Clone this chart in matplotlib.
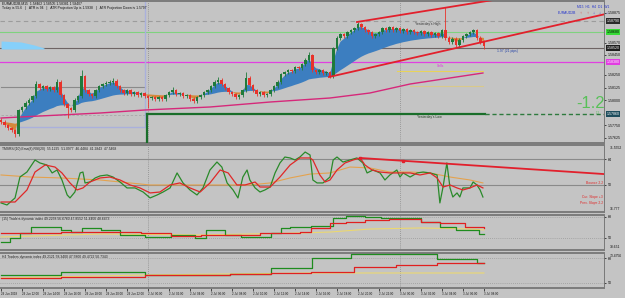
import matplotlib
matplotlib.use("Agg")
import matplotlib.pyplot as plt
import numpy as np
import pandas as pd

plt.rcParams['font.family'] = ['Liberation Sans', 'DejaVu Sans']

BG = '#c4c4c4'

# ---- price bars (one bar ~ 20 min) ----
close = np.array([
    1.5778, 1.5775, 1.5772, 1.5770, 1.5766, 1.5790, 1.5793, 1.5797, 1.5800, 1.5804,
    1.5816, 1.5812, 1.5814, 1.5811, 1.5813, 1.5810, 1.5818, 1.5805, 1.5796, 1.5792,
    1.5790, 1.5800, 1.5804, 1.5824, 1.5810, 1.5806, 1.5804, 1.5810, 1.5814, 1.5816,
    1.5817, 1.5818, 1.5819, 1.5814, 1.5810, 1.5807, 1.5810, 1.5806, 1.5808, 1.5805,
    1.5807, 1.5804, 1.5802, 1.5803, 1.5801, 1.5803, 1.5801, 1.5805, 1.5808, 1.5810,
    1.5806, 1.5807, 1.5804, 1.5805, 1.5801, 1.5799, 1.5803, 1.5805, 1.5808, 1.5810,
    1.5814, 1.5818, 1.5820, 1.5816, 1.5812, 1.5808, 1.5806, 1.5803, 1.5805, 1.5810,
    1.5822, 1.5815, 1.5810, 1.5806, 1.5808, 1.5805, 1.5806, 1.5810, 1.5814, 1.5818,
    1.5826, 1.5828, 1.5830, 1.5829, 1.5833, 1.5832, 1.5836, 1.5840, 1.5845, 1.5830,
    1.5828, 1.5830, 1.5827, 1.5828, 1.5824, 1.5852, 1.5862, 1.5866, 1.5864, 1.5868,
    1.5870, 1.5872, 1.5876, 1.5873, 1.5870, 1.5868, 1.5864, 1.5866, 1.5868, 1.5872,
    1.5870, 1.5873, 1.5870, 1.5872, 1.5869, 1.5871, 1.5868, 1.5870, 1.5868, 1.5867,
    1.5869, 1.5866, 1.5868, 1.5865, 1.5867, 1.5864, 1.5870, 1.5862, 1.5858, 1.5861,
    1.5855, 1.5860, 1.5864, 1.5866, 1.5868, 1.5870, 1.5862, 1.5858, 1.5854,
])
first_open = 1.5780
spike_high = {10: 1.5819, 16: 1.5821, 23: 1.5830, 32: 1.5822, 49: 1.5813,
              62: 1.5823, 70: 1.5828, 88: 1.5848, 102: 1.5878, 127: 1.5893}
spike_low = {4: 1.5763, 19: 1.5782, 42: 1.5792, 94: 1.5822, 130: 1.5853, 138: 1.5851}

# slow moving average (magenta)
ma_x = [0, 5.4, 28.3, 41.1, 59.7, 76.9, 94, 105.4, 116.9, 137.7]
ma_val = [1.5782, 1.5783, 1.5787, 1.5790, 1.5793, 1.5798, 1.5802, 1.5807, 1.5816, 1.5827]

# horizontal levels
level_dash = 1.5879
level_green = 1.5868
bid = 1.5852
level_magenta = 1.5838
box_high = 1.5813
box_mid = 1.5785
box_low = 1.5773
prev_low = 1.5786
proj_a = 1.5829
proj_b = 1.5814

# channel anchors (bar, price)
chan_up = [(101.7, 1.5878), (140.6, 1.5900)]
chan_lo = [(93.7, 1.5823), (174.0, 1.5887)]

# cyan blob top-left
cyan_x = [0, 5.7, 9.5, 12.3]
cyan_top = [1.5859, 1.5858, 1.5855, 1.5852]
cyan_bot = [1.5851, 1.5851, 1.5851, 1.5851]

main_ticks = [1.58875, 1.5857, 1.5845, 1.5825, 1.58125, 1.58, 1.5775, 1.57625]
price_boxes = [(1.5879, '1.58790', '#2b2b2b', 'white'),
               (1.5868, '1.58680', '#36dc36', 'black'),
               (1.5852, '1.58520', '#1e1e1e', 'white'),
               (1.5838, '1.58380', '#e23ce2', 'white'),
               (1.5786, '1.57860', '#1d4c5c', 'white')]

# ---- RSI panel ----
rsi_x = [0, 1.7, 4, 5.4, 7.4, 9.7, 11.1, 13.1, 14.6, 16, 17.4, 18.9, 19.7, 21.1, 22.6, 23.4,
         24, 25.4, 26.9, 28.3, 30.3, 32, 34, 36, 38.3, 40.6, 42.6, 44.6, 46.3, 48.3, 50.3, 52,
         54, 56, 57.7, 59.7, 61.7, 63.1, 64.6, 66.3, 67.7, 69.1, 70.3, 71.1, 72.6, 74, 75.4,
         76.9, 78.3, 79.7, 81.1, 82.6, 84, 85.4, 86.9, 88.3, 89.1, 90.3, 92, 94, 94.9, 96,
         97.7, 99.7, 101.7, 103.4, 104.6, 106.3, 108.3, 109.7, 111.1, 113.1, 114, 114.9,
         116.9, 118.9, 120.6, 122.6, 124.6, 125.4, 126.3, 127.4, 128.3, 129.1, 130.3, 131.1,
         132, 134, 134.9, 136, 136.9, 137.7]
rsi_green = [40.3, 39.2, 43.0, 54.3, 57.0, 63.5, 61.9, 60.8, 56.5, 58.1, 52.7, 44.6, 43.0, 46.2,
             56.5, 57.0, 51.1, 51.6, 53.8, 54.9, 55.4, 54.3, 51.6, 48.4, 48.4, 46.2, 43.0, 44.6,
             46.2, 48.4, 56.5, 51.1, 47.3, 44.6, 48.4, 58.1, 62.4, 59.7, 51.1, 47.3, 43.0, 54.3,
             58.1, 52.7, 48.4, 46.2, 47.3, 48.9, 56.5, 61.9, 65.1, 64.6, 63.5, 65.1, 67.8, 66.2,
             52.7, 51.1, 51.1, 54.3, 63.5, 65.1, 62.4, 63.5, 64.6, 61.9, 56.5, 58.1, 56.5, 52.7,
             55.4, 58.1, 54.3, 56.5, 54.3, 56.5, 57.0, 56.5, 55.4, 40.3, 48.9, 61.9, 48.4, 43.5,
             45.7, 43.5, 48.4, 48.4, 51.6, 50.0, 47.3, 43.5]
sig_x = [0, 4, 7.4, 9.7, 12.6, 15.4, 17.4, 19.7, 21.7, 23.4, 25.4, 28.3, 31.1, 34, 36.9, 39.7,
         42.6, 45.4, 48.3, 51.1, 54, 56.9, 59.7, 62.6, 64.9, 67.4, 69.7, 72.6, 74, 76.9, 79.7,
         82.6, 85.4, 88.3, 89.1, 91.1, 92.6, 94, 96, 98.3, 100.6, 102.6, 104, 106, 108.3, 111.1,
         114, 116.9, 119.7, 122.6, 124.6, 126.3, 128.3, 130.3, 132, 134, 136, 137.7]
rsi_red = [40.8, 40.8, 47.3, 57.0, 60.8, 59.7, 56.5, 51.1, 47.3, 48.4, 51.6, 53.8, 54.3, 52.7,
           50.0, 48.4, 45.7, 46.2, 50.0, 51.1, 48.4, 46.2, 51.1, 58.1, 56.5, 50.0, 50.0, 51.6,
           48.9, 48.9, 54.3, 60.8, 64.6, 64.6, 63.5, 55.4, 51.6, 52.7, 58.1, 61.9, 63.5, 64.6,
           60.8, 58.1, 57.0, 56.5, 56.5, 56.5, 55.4, 56.5, 53.8, 48.9, 50.0, 48.4, 47.3, 48.4,
           50.0, 48.4]
slow_x = [0, 8.3, 17, 28.3, 42.6, 56.9, 71.1, 76.9, 82.6, 88.3, 94, 99.7, 105.4, 111.1, 116.9,
          122.6, 128.3, 134, 137.7]
rsi_orange = [55.4, 54.3, 53.8, 52.7, 50.0, 50.0, 50.0, 51.1, 53.8, 55.9, 56.5, 59.7, 59.2, 57.0,
              57.0, 56.5, 54.3, 52.7, 51.1]
rsi_trend = [(102.6, 64.6), (172.3, 55.9)]
rsi_dots = [(102.6, 64.6), (114.9, 62.9)]

# ---- Traders dynamic index M15 ----
t15_gx = [0, 2.5, 5.5, 8.5, 17, 20, 23, 28.5, 34, 41, 48.5, 55.5, 58.5, 64, 68.5, 77, 80, 82.5,
          88.5, 95, 98.5, 104, 108.5, 120, 125.5, 130, 136.5, 138]
t15_green = [46.6, 50.0, 54.3, 59.4, 56.9, 55.1, 58.6, 56.9, 52.6, 50.9, 52.6, 50.0, 56.9, 52.6,
             50.9, 54.3, 58.6, 59.4, 60.3, 67.1, 68.9, 68.0, 67.1, 63.7, 59.4, 56.9, 53.4, 53.4]
t15_rx = [0, 17, 40, 48.5, 57, 74, 85.5, 88.5, 94, 98.5, 104, 111, 120, 125.5, 132.5, 138]
t15_red = [54.3, 55.1, 54.3, 51.7, 52.6, 54.3, 55.1, 58.6, 62.9, 63.7, 65.4, 66.3, 63.7, 62.9,
           59.4, 58.6]
t15_yx = [0, 28.5, 57, 85.5, 94, 105.5, 120, 134, 138]
t15_yellow = [50.9, 53.4, 52.6, 54.3, 55.1, 57.7, 58.6, 57.7, 56.9]

# ---- Traders dynamic index H4 ----
h4_gx = [0, 17, 41, 65.5, 77, 89, 100, 124.5, 136, 138]
h4_green = [55.8, 57.9, 55.8, 56.5, 60.8, 68.0, 70.9, 67.3, 64.4, 64.4]
h4_rx = [0, 17, 41, 65.5, 77, 88.5, 101, 113, 124.5, 138]
h4_red = [53.6, 54.3, 55.8, 56.5, 57.2, 57.9, 61.5, 63.0, 64.4, 64.4]
h4_yx = [0, 42, 88, 138]
h4_yellow = [53.6, 55.8, 57.2, 57.2]

day_breaks = [42, 114]
xtick_labels = ["29 Jun 2018", "29 Jun 12:00", "29 Jun 14:00", "29 Jun 16:00", "29 Jun 18:00",
                "29 Jun 20:00", "29 Jun 22:00", "2 Jul 00:00", "2 Jul 02:00", "2 Jul 04:00",
                "2 Jul 06:00", "2 Jul 08:00", "2 Jul 10:00", "2 Jul 12:00", "2 Jul 14:00",
                "2 Jul 16:00", "2 Jul 18:00", "2 Jul 20:00", "2 Jul 22:00", "3 Jul 00:00",
                "3 Jul 02:00", "3 Jul 04:00", "3 Jul 06:00", "3 Jul 08:00"]
xtick_pos = [6 * k for k in range(len(xtick_labels))]

# ---------------- figure ----------------
FS = 2.4     # tiny terminal font
AFS = 2.6    # price scale font
H = 298
W = 604 / 625
fig = plt.figure(figsize=(6.25, 2.98), dpi=100, facecolor=BG)
ax0 = fig.add_axes([0, 1 - 143 / H, W, 142 / H])
ax1 = fig.add_axes([0, 1 - 212 / H, W, 67 / H])
ax2 = fig.add_axes([0, 1 - 250 / H, W, 35 / H])
ax3 = fig.add_axes([0, 1 - 288 / H, W, 35 / H])
xlim = (-0.3, 172.3)
for ax in (ax0, ax1, ax2, ax3):
    ax.set_facecolor(BG)
    ax.set_xlim(*xlim)
    ax.yaxis.tick_right()
    ax.tick_params(axis='y', labelsize=AFS, length=1.5, width=0.5, pad=1, colors='#111111')
    ax.tick_params(axis='x', length=0, labelbottom=False)
    for side in ('top', 'bottom'):
        ax.spines[side].set_color('#7c7c7c')
        ax.spines[side].set_linewidth(1.4)
    ax.spines['left'].set_visible(False)
    ax.spines['right'].set_color('#6c6c6c')
    ax.spines['right'].set_linewidth(0.6)
    for b in day_breaks:
        ax.axvline(b, color='#8a8a8a', ls=(0, (1, 1.5)), lw=0.6, zorder=1)

# ---- main panel ----
ax0.set_ylim(1.5757, 1.5899)
ax0.set_yticks(main_ticks)
ax0.set_yticklabels([f"{t:.5f}" for t in main_ticks])

xs = np.arange(len(close))
opens = np.r_[first_open, close[:-1]]
wick = 0.00015
highs = np.maximum(opens, close) + wick
lows = np.minimum(opens, close) - wick
for k, v in spike_high.items():
    highs[k] = v
for k, v in spike_low.items():
    lows[k] = v

s = pd.Series(close)
fast = s.ewm(span=3, adjust=False).mean().values
slow = s.ewm(span=30, adjust=False).mean().values

ax0.axhline(level_dash, color='#9c9c9c', ls=(0, (4, 3)), lw=0.8, zorder=1)
ax0.axhline(level_green, color='#7fd27f', lw=0.8, zorder=1)
ax0.axhline(bid, color='#6e6464', lw=0.8, zorder=1)
ax0.axhline(level_magenta, color='#e040e0', lw=0.9, zorder=1)
ax0.plot([0, 41.1], [box_high, box_high], color='#8a8a8a', lw=0.8, zorder=1)
ax0.plot([0, 41.1], [box_mid, box_mid], color='#a8a8a8', ls=(0, (3, 2)), lw=0.6, zorder=1)
ax0.plot([4, 41.1, 41.1], [box_low, box_low, 1.5899], color='#aab0dc', lw=1.0, zorder=2)
ax0.fill_between(cyan_x, cyan_bot, cyan_top, color='#86d0fa', lw=0, zorder=2)

ax0.fill_between(xs, fast, slow, where=fast >= slow, color='#3c7ec0', interpolate=True, lw=0, zorder=2)
ax0.fill_between(xs, fast, slow, where=fast < slow, color='#d4893c', interpolate=True, lw=0, zorder=2)
ax0.plot(ma_x, ma_val, color='#d6287a', lw=1.0, zorder=3)

up = close >= opens
ccol = np.where(up, '#1f7a3a', '#e8322a')
ax0.vlines(xs, lows, highs, colors=ccol, lw=0.6, zorder=4)
ax0.bar(xs, np.maximum(np.abs(close - opens), 0.00004), bottom=np.minimum(opens, close),
        width=0.6, color=ccol, zorder=5)

ax0.plot([41.7, 41.7], [1.5757, prev_low], color='#1a6e2a', lw=1.6, zorder=3)
ax0.plot([41.7, 138.3], [prev_low, prev_low], color='#1a6e2a', lw=1.6, zorder=3)
ax0.plot([138.3, xlim[1]], [prev_low, prev_low], color='#2e7a3e', ls=(0, (3, 2)), lw=1.0, zorder=3)
ax0.plot([113.1, 137.7], [proj_a, proj_a], color='#e8d35a', lw=0.8, zorder=3)
ax0.plot([116.9, 137.7], [proj_b, proj_b], color='#d9c98a', lw=0.8, zorder=3)

for (x1, y1), (x2, y2) in (chan_up, chan_lo):
    xe = xlim[1] + 2
    ax0.plot([x1, xe], [y1, y1 + (y2 - y1) / (x2 - x1) * (xe - x1)], color='#e2202c', lw=1.3, zorder=6)

ax0.text(0.003, 0.995, "EURAUD2B,M15  1.58462 1.58505 1.58381 1.58407", transform=ax0.transAxes,
         fontsize=FS, va='top', color='#111111')
ax0.text(0.003, 0.962, "Today is 55.6   |   ATR is 94   |   ATR Projection Up is 1.5938   |   ATR Projection Down is 1.5797",
         transform=ax0.transAxes, fontsize=FS, va='top', color='#111111')
ax0.text(118.3, 1.5876, "Yesterday's High", fontsize=FS, color='#333333', va='center', zorder=7)
ax0.text(118.9, 1.5783, "Yesterday's Low", fontsize=FS, color='#1c3c1c', va='center', zorder=7)
ax0.text(141.7, 1.5849, "1.97 (21 pips)", fontsize=FS, color='#2442a8', va='center', zorder=7)
ax0.text(124.6, 1.5834, "Sells", fontsize=FS, color='#e030e0', va='center', zorder=7)
ax0.text(172.6, 1.5797, "-1.2", fontsize=12, color='#58c058', ha='right', va='center', zorder=7)
ax0.text(170.5, 1.5787, "1.2", fontsize=2.2, color='#58c058', ha='center', va='center', zorder=7)
ax0.text(164.6, 1.5893, "M15  H1  H4  D1  W1", fontsize=FS, color='#2233cc', ha='left', va='center', zorder=7)
ax0.text(164.3, 1.5887, "EURAUD2B", fontsize=FS, color='#2233cc', ha='right', va='center', zorder=7)
for xa, col, ch in ((165.6, '#e02020', '\u2191'), (167.6, '#e02020', '\u2191'),
                    (169.4, '#2222dd', '\u2193'), (171.1, '#2222dd', '\u2193'), (172.9, '#2222dd', '\u2193')):
    ax0.text(xa, 1.5887, ch, fontsize=3, color=col, ha='center', va='center', zorder=7)

ytr = ax0.get_yaxis_transform()
for p, txt, fc, tc in price_boxes:
    ax0.text(1.004, p, txt, transform=ytr, fontsize=AFS, color=tc, va='center', ha='left',
             bbox=dict(boxstyle='square,pad=0.25', fc=fc, ec='none'), clip_on=False, zorder=8)

# ---- RSI panel ----
ax1.set_ylim(35.4, 71.6)
ax1.set_yticks([64, 50])
ax1.axhline(64, color='#8a8a8a', lw=0.8, zorder=1)
ax1.axhline(50, color='#8a8a8a', lw=0.8, zorder=1)
ax1.plot(slow_x, rsi_orange, color='#e4a24e', lw=0.8, zorder=2)
ax1.plot(rsi_x, rsi_green, color='#2a8a2a', lw=0.9, zorder=3)
ax1.plot(sig_x, rsi_red, color='#e02828', lw=0.9, zorder=4)
(tx1, ty1), (tx2, ty2) = rsi_trend
ax1.plot([tx1, tx2], [ty1, ty2], color='#e2202c', lw=1.3, zorder=5)
ax1.plot(*zip(*rsi_dots), 's', color='#e2202c', ms=1.5, zorder=6)
ax1.text(0.003, 0.975, "TMSRSI(10),Ema(8),RSI(20)  55.1295  51.0977  46.4484  41.2843  47.5468",
         transform=ax1.transAxes, fontsize=FS, va='top', color='#222222')
ax1.text(172.0, 51.1, "Bounce 2.2", fontsize=FS, color='#e02828', ha='right', va='center')
ax1.text(172.0, 43.5, "Cur. Slope +3", fontsize=FS, color='#e02828', ha='right', va='center')
ax1.text(172.0, 40.3, "Prev. Slope 2.2", fontsize=FS, color='#e02828', ha='right', va='center')
ax1.text(1.01, 0.98, "71.5552", transform=ax1.transAxes, fontsize=FS, va='top', color='#111111')
ax1.text(1.01, 0.02, "36.777", transform=ax1.transAxes, fontsize=FS, va='bottom', color='#111111')

# ---- TDI M15 ----
ax2.set_ylim(39.7, 69.7)
ax2.set_yticks([68, 50])
for lv in (68, 50):
    ax2.axhline(lv, color='#9a9a9a', ls=(0, (1, 1.5)), lw=0.6, zorder=1)
ax2.plot(t15_yx, t15_yellow, color='#ecd870', lw=0.8, zorder=2)
ax2.plot(t15_gx, t15_green, color='#1e8c1e', lw=0.9, drawstyle='steps-post', zorder=3)
ax2.plot(t15_rx, t15_red, color='#e02020', lw=0.9, drawstyle='steps-post', zorder=4)
ax2.text(0.003, 0.95, "(15) Traders dynamic index 49.2258 56.6760 47.8552 51.4400 48.6473",
         transform=ax2.transAxes, fontsize=FS, va='top', color='#222222')
ax2.text(1.01, 0.02, "38.651", transform=ax2.transAxes, fontsize=FS, va='bottom', color='#111111')

# ---- TDI H4 ----
ax3.set_ylim(46.4, 71.6)
ax3.set_yticks([68, 50])
for lv in (68, 50):
    ax3.axhline(lv, color='#9a9a9a', ls=(0, (1, 1.5)), lw=0.6, zorder=1)
ax3.plot(h4_yx, h4_yellow, color='#ecd870', lw=0.8, zorder=2)
ax3.plot(h4_gx, h4_green, color='#1e8c1e', lw=0.9, drawstyle='steps-post', zorder=3)
ax3.plot(h4_rx, h4_red, color='#e02020', lw=0.9, drawstyle='steps-post', zorder=4)
ax3.text(0.003, 0.95, "H4 Traders dynamic index 49.2121 58.3400 47.5800 49.4722 50.7343",
         transform=ax3.transAxes, fontsize=FS, va='top', color='#222222')
ax3.text(1.01, 0.98, "73.4756", transform=ax3.transAxes, fontsize=FS, va='top', color='#111111')

ax3.set_xticks(xtick_pos)
ax3.set_xticklabels(xtick_labels)
ax3.tick_params(axis='x', length=2, width=0.5, labelbottom=True, labelsize=2.1, pad=1.2,
                colors='#111111')
for lab in ax3.get_xticklabels():
    lab.set_ha('left')

fig.savefig("out.png", dpi=100, facecolor=BG)
